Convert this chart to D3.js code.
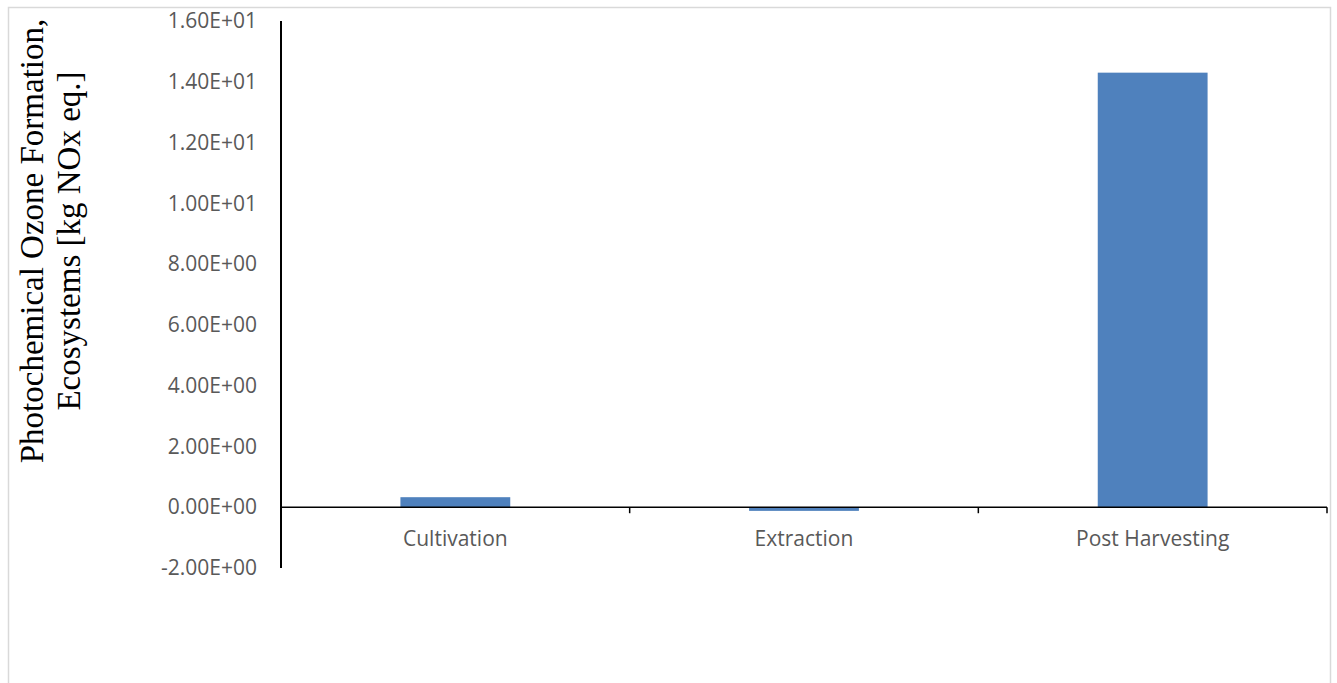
<!DOCTYPE html>
<html>
<head>
<meta charset="utf-8">
<script src="https://cdn.jsdelivr.net/npm/d3@7"></script>
<style>
  html, body { margin: 0; padding: 0; background: #fff; }
  svg { display: block; }
</style>
</head>
<body>
<svg id="chart" width="1337" height="683"></svg>
<script>
// Impact by life-cycle stage
const categories = ["Cultivation", "Extraction", "Post Harvesting"];
const values = [0.33, -0.12, 14.3];
const yTicks = [-2, 0, 2, 4, 6, 8, 10, 12, 14, 16];
const titleLines = ["Photochemical Ozone Formation,", "Ecosystems [kg NOx eq.]"];

const svg = d3.select("#chart");

// outer chart frame
svg.append("rect")
  .attr("x", 8.5).attr("y", 7.5)
  .attr("width", 1322).attr("height", 700)
  .attr("fill", "#fff").attr("stroke", "#d9d9d9").attr("stroke-width", 1.5);

const plot = { left: 281, right: 1327, top: 21, bottom: 568 };

const x = d3.scaleBand()
  .domain(categories)
  .range([plot.left, plot.right])
  .paddingInner(0.685)
  .paddingOuter(0.685 / 2);

const y = d3.scaleLinear()
  .domain([-2, 16])
  .range([plot.bottom, plot.top]);

// scientific notation like 1.60E+01
function sci(v) {
  const s = v.toExponential(2);
  const [m, e] = s.split("e");
  const sign = e[0] === "-" ? "-" : "+";
  const digits = e.replace(/^[+-]/, "").padStart(2, "0");
  return m + "E" + sign + digits;
}

const labelFont = "'Open Sans', sans-serif";
const labelSize = "21px";
const labelColor = "#595959";

// bars
svg.append("g")
  .selectAll("rect")
  .data(categories.map((c, i) => ({ c, v: values[i] })))
  .join("rect")
  .attr("x", d => x(d.c))
  .attr("width", x.bandwidth())
  .attr("y", d => y(Math.max(0, d.v)))
  .attr("height", d => Math.abs(y(d.v) - y(0)))
  .attr("fill", "#4f81bd");

// y axis (line + labels, no tick marks)
const yAxis = d3.axisLeft(y)
  .tickValues(yTicks)
  .tickFormat(sci)
  .tickSize(0)
  .tickPadding(24);

const gy = svg.append("g")
  .attr("transform", `translate(${plot.left},0)`)
  .call(yAxis);
gy.select(".domain").attr("stroke", "#000").attr("stroke-width", 2)
  .attr("d", `M0,${plot.top}V${plot.bottom}`);
gy.selectAll("text")
  .attr("font-family", labelFont)
  .attr("font-size", labelSize)
  .attr("fill", labelColor);

// x axis at zero with tick marks at category boundaries
const gx = svg.append("g").attr("transform", `translate(0,${y(0)})`);
gx.append("line")
  .attr("x1", plot.left).attr("x2", plot.right)
  .attr("stroke", "#000").attr("stroke-width", 1.5);
const step = x.step();
const bounds = d3.range(categories.length + 1).map(i => plot.left + i * step);
gx.selectAll(".tick-mark")
  .data(bounds)
  .join("line")
  .attr("class", "tick-mark")
  .attr("x1", d => d).attr("x2", d => d)
  .attr("y1", 0).attr("y2", 6)
  .attr("stroke", "#000").attr("stroke-width", 1.5);
gx.selectAll(".cat")
  .data(categories)
  .join("text")
  .attr("class", "cat")
  .attr("x", d => x(d) + x.bandwidth() / 2)
  .attr("y", 39)
  .attr("text-anchor", "middle")
  .attr("font-family", labelFont)
  .attr("font-size", labelSize)
  .attr("fill", labelColor)
  .text(d => d);

// y axis title, two lines rotated
const title = svg.append("text")
  .attr("transform", "translate(43,241) rotate(-90)")
  .attr("text-anchor", "middle")
  .attr("font-family", "'Liberation Serif', serif")
  .attr("font-size", "33px")
  .attr("fill", "#000");
title.selectAll("tspan")
  .data(titleLines)
  .join("tspan")
  .attr("x", 0)
  .attr("dy", (d, i) => i === 0 ? 0 : 37)
  .text(d => d);
</script>
</body>
</html>
